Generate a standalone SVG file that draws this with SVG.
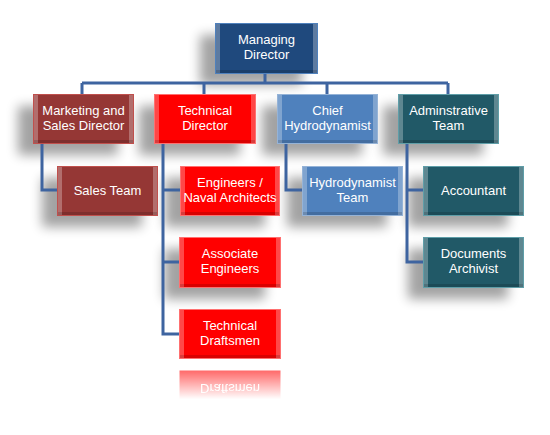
<svg xmlns="http://www.w3.org/2000/svg" width="550" height="435" viewBox="0 0 550 435">
<defs>
<filter id="blur" x="-50%" y="-50%" width="200%" height="200%"><feGaussianBlur stdDeviation="6"/></filter>
<linearGradient id="fade" x1="0" y1="0" x2="0" y2="1">
<stop offset="0" stop-color="#fff" stop-opacity="0.6"/>
<stop offset="0.65" stop-color="#fff" stop-opacity="0"/>
</linearGradient>
<mask id="refmask" maskUnits="userSpaceOnUse" x="0" y="360" width="550" height="60">
<rect x="170" y="370" width="120" height="45" fill="url(#fade)"/>
</mask>
</defs>
<style>
.sh{fill:#000;opacity:0.36;filter:url(#blur)}
.c{fill:none;stroke:#3E64A0;stroke-width:3}
.hl{fill:#fff;opacity:0.28}
.dk{fill:#000;opacity:0.15}
.t{font-family:"Liberation Sans",Arial,sans-serif;font-size:13px;fill:#fff;text-anchor:middle}
.md{fill:#1F497D;stroke:#4F81BD;stroke-width:1}
.mk{fill:#953735;stroke:#C0504D;stroke-width:1}
.te{fill:#FF0000;stroke:#FF7070;stroke-width:1}
.ch{fill:#4F81BD;stroke:#95B3D7;stroke-width:1}
.ad{fill:#215967;stroke:#5F9EA8;stroke-width:1}
</style>
<rect width="550" height="435" fill="#fff"/>
<g id="shadows">
<rect class="sh" x="200" y="35" width="102" height="50"/>
<rect class="sh" x="18" y="106" width="100" height="49"/>
<rect class="sh" x="139" y="106" width="101" height="49"/>
<rect class="sh" x="262" y="106" width="100" height="49"/>
<rect class="sh" x="383" y="106" width="100" height="49"/>
<rect class="sh" x="42" y="178" width="100" height="49"/>
<rect class="sh" x="165" y="178" width="100" height="49"/>
<rect class="sh" x="287" y="178" width="100" height="49"/>
<rect class="sh" x="408" y="178" width="100" height="49"/>
<rect class="sh" x="164" y="249" width="101" height="50"/>
<rect class="sh" x="408" y="249" width="100" height="50"/>
</g>
<g id="connectors">
<path class="c" d="M265,73 V83 M82,83 H448 M82,83 V94 M204,83 V94 M327,83 V94 M448,83 V94"/>
<path class="c" d="M42,143 V190 H57"/>
<path class="c" d="M163,143 V334 H179 M163,190 H180 M163,262 H179"/>
<path class="c" d="M286,143 V190 H302"/>
<path class="c" d="M407,143 V262 H423 M407,190 H423"/>
</g>
<g id="managing-director">
<rect class="md" x="215.5" y="23.5" width="102" height="50"/>
<rect class="hl" x="216" y="24" width="4" height="49"/><rect class="hl" x="313" y="24" width="4" height="49"/><rect class="dk" x="216" y="70" width="101" height="3"/>
<text class="t" x="266.5" y="43.5">Managing</text><text class="t" x="266.5" y="58.5">Director</text>
</g>
<g id="marketing">
<rect class="mk" x="33.5" y="94.5" width="100" height="49"/>
<rect class="hl" x="34" y="95" width="4" height="48"/><rect class="hl" x="129" y="95" width="4" height="48"/><rect class="dk" x="34" y="140" width="99" height="3"/>
<text class="t" x="83.5" y="115">Marketing and</text><text class="t" x="83.5" y="130">Sales Director</text>
</g>
<g id="technical-director">
<rect class="te" x="154.5" y="94.5" width="101" height="49"/>
<rect class="hl" x="155" y="95" width="4" height="48"/><rect class="hl" x="251" y="95" width="4" height="48"/><rect class="dk" x="155" y="140" width="100" height="3"/>
<text class="t" x="205" y="115">Technical</text><text class="t" x="205" y="130">Director</text>
</g>
<g id="chief-hydrodynamist">
<rect class="ch" x="277.5" y="94.5" width="100" height="49"/>
<rect class="hl" x="278" y="95" width="4" height="48"/><rect class="hl" x="373" y="95" width="4" height="48"/><rect class="dk" x="278" y="140" width="99" height="3"/>
<text class="t" x="327.5" y="115">Chief</text><text class="t" x="327.5" y="130">Hydrodynamist</text>
</g>
<g id="administrative-team">
<rect class="ad" x="398.5" y="94.5" width="100" height="49"/>
<rect class="hl" x="399" y="95" width="4" height="48"/><rect class="hl" x="494" y="95" width="4" height="48"/><rect class="dk" x="399" y="140" width="99" height="3"/>
<text class="t" x="448.5" y="115">Adminstrative</text><text class="t" x="448.5" y="130">Team</text>
</g>
<g id="sales-team">
<rect class="mk" x="57.5" y="166.5" width="100" height="49"/>
<rect class="hl" x="58" y="167" width="4" height="48"/><rect class="hl" x="153" y="167" width="4" height="48"/><rect class="dk" x="58" y="212" width="99" height="3"/>
<text class="t" x="107.5" y="195">Sales Team</text>
</g>
<g id="engineers">
<rect class="te" x="180.5" y="166.5" width="99" height="49"/>
<rect class="hl" x="181" y="167" width="4" height="48"/><rect class="hl" x="275" y="167" width="4" height="48"/><rect class="dk" x="181" y="212" width="98" height="3"/>
<text class="t" x="230" y="187">Engineers /</text><text class="t" x="230" y="202">Naval Architects</text>
</g>
<g id="hydrodynamist-team">
<rect class="ch" x="302.5" y="166.5" width="100" height="49"/>
<rect class="hl" x="303" y="167" width="4" height="48"/><rect class="hl" x="398" y="167" width="4" height="48"/><rect class="dk" x="303" y="212" width="99" height="3"/>
<text class="t" x="352.5" y="187">Hydrodynamist</text><text class="t" x="352.5" y="202">Team</text>
</g>
<g id="accountant">
<rect class="ad" x="423.5" y="166.5" width="100" height="49"/>
<rect class="hl" x="424" y="167" width="4" height="48"/><rect class="hl" x="519" y="167" width="4" height="48"/><rect class="dk" x="424" y="212" width="99" height="3"/>
<text class="t" x="473.5" y="195">Accountant</text>
</g>
<g id="associate-engineers">
<rect class="te" x="179.5" y="237.5" width="101" height="50"/>
<rect class="hl" x="180" y="238" width="4" height="49"/><rect class="hl" x="276" y="238" width="4" height="49"/><rect class="dk" x="180" y="284" width="100" height="3"/>
<text class="t" x="230" y="258">Associate</text><text class="t" x="230" y="273">Engineers</text>
</g>
<g id="documents-archivist">
<rect class="ad" x="423.5" y="237.5" width="100" height="50"/>
<rect class="hl" x="424" y="238" width="4" height="49"/><rect class="hl" x="519" y="238" width="4" height="49"/><rect class="dk" x="424" y="284" width="99" height="3"/>
<text class="t" x="473.5" y="258">Documents</text><text class="t" x="473.5" y="273">Archivist</text>
</g>
<g id="technical-draftsmen">
<rect class="te" x="179.5" y="309.5" width="101" height="49"/>
<rect class="hl" x="180" y="310" width="4" height="48"/><rect class="hl" x="276" y="310" width="4" height="48"/><rect class="dk" x="180" y="355" width="100" height="3"/>
<text class="t" x="230" y="330">Technical</text><text class="t" x="230" y="345">Draftsmen</text>
</g>
<g id="reflection" mask="url(#refmask)">
<g transform="translate(0,729) scale(1,-1)">
<rect x="179.5" y="309.5" width="101" height="49" fill="#FF0000"/>
<text class="t" x="230" y="330">Technical</text><text class="t" x="230" y="345">Draftsmen</text>
</g>
</g>
</svg>
